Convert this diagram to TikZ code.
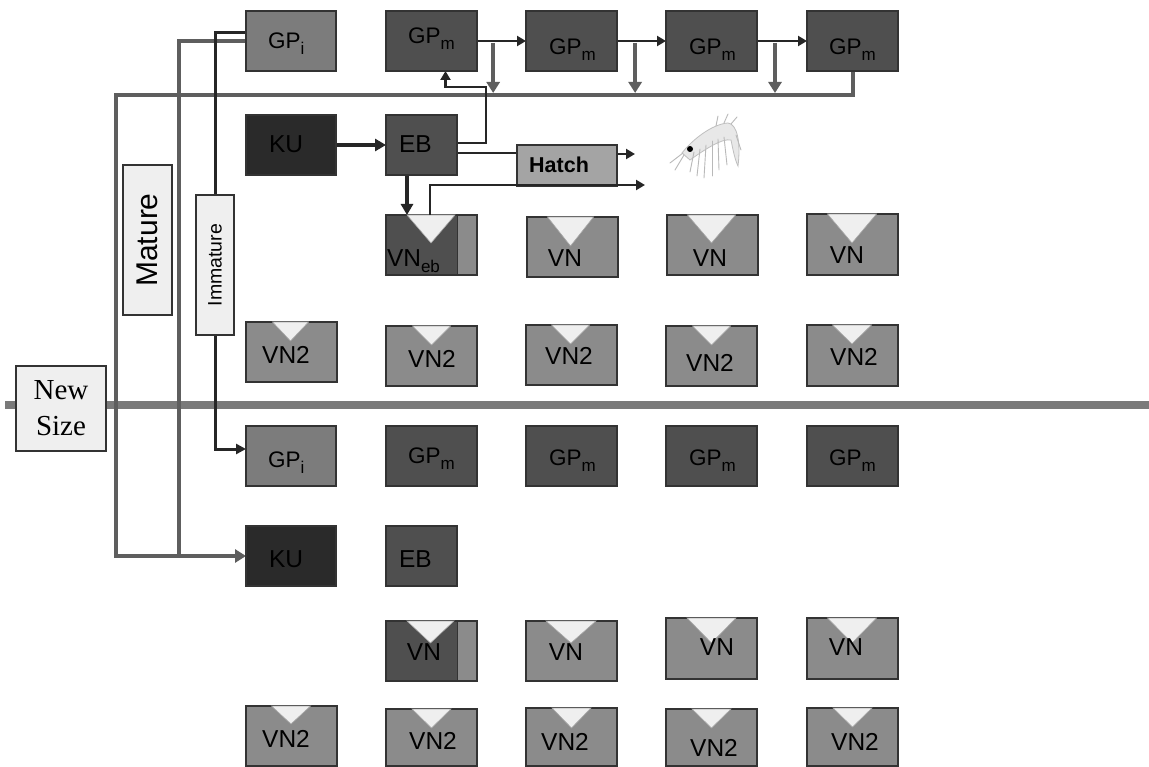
\documentclass[tikz,border=0pt]{standalone}
\usepackage{fontspec}
\setmainfont{Liberation Sans}
\newfontfamily\sizefont{Liberation Serif}
\usetikzlibrary{arrows.meta,calc}
\pgfdeclarelayer{wires}
\pgfdeclarelayer{paper}
\pgfsetlayers{paper,wires,main}

\definecolor{gpiC}{HTML}{7C7C7C}
\definecolor{gpmC}{HTML}{4F4F4F}
\definecolor{kuC}{HTML}{2A2A2A}
\definecolor{vnC}{HTML}{8B8B8B}
\definecolor{hatchC}{HTML}{A4A4A4}
\definecolor{paleC}{HTML}{EFEFEF}
\definecolor{rimC}{HTML}{333333}
\definecolor{wireG}{HTML}{5E5E5E}
\definecolor{wireD}{HTML}{262626}
\definecolor{barC}{HTML}{7A7A7A}

\newcommand{\subtxt}[1]{\raisebox{-6pt}{\fontsize{17}{17}\selectfont #1}}
\newcommand{\gpfont}{\fontsize{22.5}{26}\selectfont}
\newcommand{\vnfont}{\fontsize{24.5}{28}\selectfont}
% notch triangle hanging from the top edge of a box: node, x offset, half width, depth
\newcommand{\notch}[4]{\filldraw[notchst] ($(#1.north)+(#2-#3,0)$) -- ($(#1.north)+(#2+#3,0)$) -- ($(#1.north)+(#2,#4)$) -- cycle;}

\begin{document}
\begin{tikzpicture}[x=1pt,y=-1pt,
  box/.style={draw=rimC, line width=1.2pt, anchor=north west, inner sep=0pt, outer sep=0pt,
              minimum width=90pt, minimum height=60pt},
  gpi/.style={box, fill=gpiC},
  gpm/.style={box, fill=gpmC, minimum width=91pt},
  kub/.style={box, fill=kuC},
  ebb/.style={box, fill=gpmC, minimum width=71pt},
  vnb/.style={box, fill=vnC, minimum width=91pt},
  vneb/.style={box, fill=vnC, minimum width=91pt,
    path picture={
      \fill[gpmC] (path picture bounding box.north west) rectangle ([xshift=-20pt]path picture bounding box.south east);
      \draw[rimC, line width=1pt] ([xshift=-20pt]path picture bounding box.north east) -- ([xshift=-20pt]path picture bounding box.south east);}},
  pale/.style={draw=rimC, line width=1.2pt, fill=paleC, inner sep=0pt, outer sep=0pt},
  notchst/.style={fill=paleC, draw=gray!70, line width=0.6pt},
  lab/.style={inner sep=0pt, outer sep=0pt, anchor=base, font=\vnfont},
  gplab/.style={inner sep=0pt, outer sep=0pt, anchor=base west, font=\gpfont},
  kulab/.style={inner sep=0pt, outer sep=0pt, anchor=base west, font=\vnfont},
  divider/.style={draw=barC, line width=8pt},
  greyline/.style={draw=wireG, line width=4pt},
  greyarr/.style={greyline, -{Triangle[length=11pt,width=13pt]}},
  darkline/.style={draw=wireD, line width=3pt},
  darkarr/.style={darkline, -{Triangle[length=10pt,width=10pt]}},
  blkline/.style={draw=wireD, line width=2.5pt},
  blkarr/.style={blkline, -{Triangle[length=9pt,width=10pt]}},
  thickarr/.style={draw=wireD, line width=4pt, -{Triangle[length=11pt,width=12pt]}},
  krillline/.style={draw=gray!55, line width=0.9pt, line cap=round},
  krillbody/.style={fill=gray!18, draw=gray!50, line width=0.8pt}
]
\begin{pgfonlayer}{paper}
  \fill[white] (0,0) rectangle (1149,767);
\end{pgfonlayer}
\useasboundingbox (0,0) rectangle (1149,767);

% ---------------- upper half: current size class ----------------
\node[gpi] (gpiA) at (246,11) {};
\node[gpm] (gpmA1) at (386,11) {};
\node[gpm] (gpmA2) at (526,11) {};
\node[gpm] (gpmA3) at (666,11) {};
\node[gpm] (gpmA4) at (807,11) {};

\node[kub] (kuA) at (246,115) {};
\node[ebb] (ebA) at (386,115) {};
\node[box, fill=hatchC, minimum width=100pt, minimum height=41pt] (hatch) at (517,145) {};

\node[vneb] (vnebA) at (386,215) {};
\node[vnb] (vnA2) at (527,217) {};
\node[vnb] (vnA3) at (667,215) {};
\node[vnb, minimum height=61pt] (vnA4) at (807,214) {};

\node[vnb] (vn2A0) at (246,322) {};
\node[vnb] (vn2A1) at (386,326) {};
\node[vnb] (vn2A2) at (526,325) {};
\node[vnb] (vn2A3) at (666,326) {};
\node[vnb, minimum height=61pt] (vn2A4) at (807,325) {};

% ---------------- lower half: new size class ----------------
\node[gpi] (gpiB) at (246,426) {};
\node[gpm] (gpmB1) at (386,426) {};
\node[gpm] (gpmB2) at (526,426) {};
\node[gpm] (gpmB3) at (666,426) {};
\node[gpm] (gpmB4) at (807,426) {};

\node[kub] (kuB) at (246,526) {};
\node[ebb] (ebB) at (386,526) {};

\node[vneb] (vnebB) at (386,621) {};
\node[vnb] (vnB2) at (526,621) {};
\node[vnb, minimum height=61pt] (vnB3) at (666,618) {};
\node[vnb, minimum height=61pt] (vnB4) at (807,618) {};

\node[vnb, minimum height=60pt] (vn2B0) at (246,706) {};
\node[vnb, minimum height=57pt] (vn2B1) at (386,709) {};
\node[vnb, minimum height=58pt] (vn2B2) at (526,708) {};
\node[vnb, minimum height=57pt] (vn2B3) at (666,709) {};
\node[vnb, minimum height=58pt] (vn2B4) at (807,708) {};

% side labels
\node[pale, minimum width=49pt, minimum height=150pt, font=\fontsize{30}{34}\selectfont] (mat) at (147.5,240) {\rotatebox{90}{Mature}};
\node[pale, minimum width=38pt, minimum height=140pt, font=\fontsize{19.5}{22}\selectfont] (imm) at (215,265) {\rotatebox{90}{Immature}};
\node[pale, minimum width=90pt, minimum height=85pt, align=center,
      font=\sizefont\fontsize{29}{36}\selectfont] (newsize) at (61,408.5) {New\\Size};

% notches of the vitellogenesis boxes
\notch{vnebA}{-0.5}{24}{28}
\notch{vnA2}{-2}{23}{29}
\notch{vnA3}{-1}{24}{28}
\notch{vnA4}{-0.5}{24.5}{29}
\notch{vn2A0}{-1}{18}{19}
\notch{vn2A1}{0}{19}{19}
\notch{vn2A2}{-1}{19}{19}
\notch{vn2A3}{0}{19}{19}
\notch{vn2A4}{-0.5}{19.5}{19}
\notch{vnebB}{-1}{23.5}{22}
\notch{vnB2}{-0.5}{25}{22}
\notch{vnB3}{0}{24.5}{25}
\notch{vnB4}{-0.5}{24.5}{25}
\notch{vn2B0}{-0.5}{19.5}{18}
\notch{vn2B1}{0}{19.5}{19}
\notch{vn2B2}{0}{19.5}{20}
\notch{vn2B3}{0}{19.5}{19}
\notch{vn2B4}{0}{19.5}{19}

% ---------------- box texts ----------------
\node[gplab] (tgpiA) at (268,49) {GP\subtxt{i}};
\node[gplab] (tgpmA1) at (408,44) {GP\subtxt{m}};
\node[gplab] (tgpmA2) at (549,55) {GP\subtxt{m}};
\node[gplab] (tgpmA3) at (689,55) {GP\subtxt{m}};
\node[gplab] (tgpmA4) at (829,55) {GP\subtxt{m}};
\node[kulab] (tkuA) at (269,153) {KU};
\node[kulab] (tebA) at (399,153) {EB};
\node[inner sep=0pt, anchor=base west, font=\bfseries\fontsize{21.5}{24}\selectfont] (thatch) at (529,173) {Hatch};
\node[kulab] (tvnebA) at (387,267) {VN\subtxt{eb}};
\node[lab] (tvnA2) at (565,267) {VN};
\node[lab] (tvnA3) at (710,267) {VN};
\node[lab] (tvnA4) at (847,264) {VN};
\node[lab] (tvn2A0) at (286,363) {VN2};
\node[lab] (tvn2A1) at (432,367) {VN2};
\node[lab] (tvn2A2) at (569,364) {VN2};
\node[lab] (tvn2A3) at (710,371) {VN2};
\node[lab] (tvn2A4) at (854,366) {VN2};

\node[gplab] (tgpiB) at (268,467) {GP\subtxt{i}};
\node[gplab] (tgpmB1) at (408,463) {GP\subtxt{m}};
\node[gplab] (tgpmB2) at (549,465) {GP\subtxt{m}};
\node[gplab] (tgpmB3) at (689,465) {GP\subtxt{m}};
\node[gplab] (tgpmB4) at (829,465) {GP\subtxt{m}};
\node[kulab] (tkuB) at (269,567) {KU};
\node[kulab] (tebB) at (399,567) {EB};
\node[lab] (tvnB1) at (424,660) {VN};
\node[lab] (tvnB2) at (566,660) {VN};
\node[lab] (tvnB3) at (717,655) {VN};
\node[lab] (tvnB4) at (846,655) {VN};
\node[lab] (tvn2B0) at (286,747) {VN2};
\node[lab] (tvn2B1) at (433,749) {VN2};
\node[lab] (tvn2B2) at (565,750) {VN2};
\node[lab] (tvn2B3) at (714,756) {VN2};
\node[lab] (tvn2B4) at (855,750) {VN2};

% ---------------- hatched larva sketch ----------------
\filldraw[krillbody] (682,153) .. controls (692,140) and (712,124) .. (728,123)
  .. controls (737,124) and (741,142) .. (738,166)
  .. controls (735,160) and (733,150) .. (731,140)
  .. controls (722,138) and (704,150) .. (690,160) -- cycle;
\foreach \xa/\ya/\xb/\yb in {694/152/690/172, 700/149/697/176, 706/145/704/178, 712/141/712/176,
                              718/139/719/170, 724/137/727/165, 683/153/670/163, 684/155/675/170,
                              716/126/718/116, 724/123/728/114, 731/124/737/117, 736/135/741/150}
  \draw[krillline] (\xa,\ya) -- (\xb,\yb);
\fill[black] (690,149) circle (3pt);

% ---------------- connectors ----------------
\coordinate (out2) at (645,185);
\draw[blkarr] ([xshift=-1.5pt]vnebA.north) |- (out2);

\begin{pgfonlayer}{wires}
  \coordinate (divL) at (5,405);
  \coordinate (divR) at (1149,405);
  \draw[divider] (divL) -- (divR);

  % mature females return to the new size class
  \coordinate (fbTop) at (116,95);
  \draw[greyarr] (gpmA4.south) |- (fbTop) |- (kuB.west);
  \coordinate (jn) at (179,556);
  \draw[greyline] (gpiA.west) -| (jn);

  % immature path
  \draw[darkline] ([yshift=8pt]gpiA.west) -| (imm.north);
  \draw[darkarr] (imm.south) |- ([yshift=7pt]gpiB.west);

  % maturation chain
  \foreach \a/\b in {gpmA1/gpmA2, gpmA2/gpmA3, gpmA3/gpmA4}
    \draw[blkarr] (\a.east) -- (\b.west);
  \coordinate (d1) at ($(gpmA1.east)!0.33!(gpmA2.west)$);
  \coordinate (d2) at ($(gpmA2.east)!0.37!(gpmA3.west)$);
  \coordinate (d3) at ($(gpmA3.east)!0.36!(gpmA4.west)$);
  \foreach \d in {d1,d2,d3}{
    \coordinate (\d e) at (\d |- fbTop);
    \draw[greyarr] ([yshift=-2pt]\d) -- ([yshift=2pt]\d e);
  }

  % egg batch feeds back to the gonad
  \coordinate (ebUp) at (486,87);
  \draw[blkarr] ([yshift=2pt]ebA.east) -| (ebUp) -| ([xshift=14pt]gpmA1.south);

  \draw[thickarr] (kuA.east) -- (ebA.west);
  \coordinate (ebS) at ([xshift=-14.5pt]ebA.south);
  \draw[thickarr] (ebS) -- (ebS |- vnebA.north);

  \coordinate (ebH) at ([yshift=-8pt]ebA.east);
  \draw[blkline] (ebH) -- (ebH -| hatch.west);
  \coordinate (out1) at (635,154);
  \draw[blkarr] (out1 -| hatch.east) -- (out1);
\end{pgfonlayer}
\end{tikzpicture}
\end{document}
